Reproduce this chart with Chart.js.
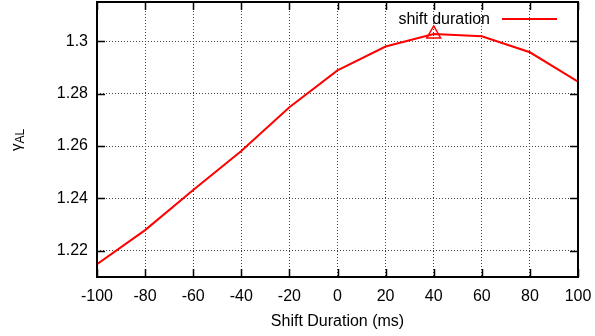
<!DOCTYPE html>
<html>
<head>
<meta charset="utf-8">
<script src="https://cdn.jsdelivr.net/npm/chart.js@4"></script>
<style>
  html, body { margin: 0; padding: 0; background: #fff; }
  #wrap { width: 595px; height: 336px; }
</style>
</head>
<body>
<div id="wrap"><canvas id="myChart" width="595" height="336"></canvas></div>
<script>
// data
const shiftMs = [-100, -80, -60, -40, -20, 0, 20, 40, 60, 80, 100];
const gammaAL = [1.2149, 1.2279, 1.2432, 1.2581, 1.2748, 1.2889, 1.2980, 1.3028, 1.3019, 1.2958, 1.2846];
const xTicks = [-100, -80, -60, -40, -20, 0, 20, 40, 60, 80, 100];
const yTicks = [1.22, 1.24, 1.26, 1.28, 1.3];
const seriesName = 'shift duration';
const markerX = [40];
const markerY = [1.3028];

const FONT = '"Liberation Sans", Arial, sans-serif';

// gnuplot-ish frame: solid border, inward ticks on all sides, custom legend and y title
const framePlugin = {
  id: 'frame',
  afterDraw(chart) {
    const ctx = chart.ctx;
    const a = chart.chartArea;
    const xs = chart.scales.x, ys = chart.scales.y;
    ctx.save();
    ctx.strokeStyle = '#000';
    ctx.lineWidth = 1.5;
    ctx.beginPath();
    xTicks.forEach(function(v) {
      const px = Math.round(xs.getPixelForValue(v)) + 0.5;
      ctx.moveTo(px, a.bottom); ctx.lineTo(px, a.bottom - 8);
      ctx.moveTo(px, a.top); ctx.lineTo(px, a.top + 8);
    });
    yTicks.forEach(function(v) {
      const py = Math.round(ys.getPixelForValue(v)) + 0.5;
      ctx.moveTo(a.left, py); ctx.lineTo(a.left + 8, py);
      ctx.moveTo(a.right, py); ctx.lineTo(a.right - 8, py);
    });
    ctx.stroke();
    ctx.lineWidth = 2;
    ctx.strokeRect(a.left, a.top, a.right - a.left, a.bottom - a.top);

    // legend
    ctx.fillStyle = '#000';
    ctx.font = '16px ' + FONT;
    ctx.textAlign = 'right';
    ctx.textBaseline = 'middle';
    ctx.fillText(seriesName, 490, 20);
    ctx.strokeStyle = '#ff0000';
    ctx.lineWidth = 2;
    ctx.beginPath();
    ctx.moveTo(502, 19); ctx.lineTo(557, 19);
    ctx.stroke();

    // y title: gamma with subscript AL, rotated
    ctx.translate(21, 151);
    ctx.rotate(-Math.PI / 2);
    ctx.textAlign = 'left';
    ctx.textBaseline = 'alphabetic';
    ctx.fillStyle = '#000';
    ctx.font = '15px ' + FONT;
    ctx.fillText('γ', 0, 0);
    const w = ctx.measureText('γ').width;
    ctx.font = '12px ' + FONT;
    ctx.fillText('AL', w, 3);
    ctx.restore();
  }
};

const ctx = document.getElementById('myChart').getContext('2d');
new Chart(ctx, {
  type: 'line',
  data: {
    datasets: [{
      label: seriesName,
      data: shiftMs.map(function(x, i) { return { x: x, y: gammaAL[i] }; }),
      borderColor: '#ff0000',
      borderWidth: 2,
      pointRadius: 0,
      fill: false,
      tension: 0
    }, {
      label: 'max',
      data: markerX.map(function(x, i) { return { x: x, y: markerY[i] }; }),
      showLine: false,
      pointStyle: 'triangle',
      pointRadius: 8,
      borderColor: '#ff0000',
      backgroundColor: 'rgba(0,0,0,0)',
      pointBorderWidth: 1.5
    }]
  },
  options: {
    responsive: false,
    animation: false,
    layout: { autoPadding: false, padding: { left: 0, right: 17, top: 2, bottom: 0 } },
    plugins: { legend: { display: false }, tooltip: { enabled: false } },
    scales: {
      x: {
        type: 'linear',
        min: -100,
        max: 100,
        afterBuildTicks: function(s) { s.ticks = xTicks.map(function(v) { return { value: v }; }); },
        afterFit: function(s) { s.height = 59; s.paddingLeft = 0; s.paddingRight = 0; },
        grid: { color: '#444', lineWidth: 1, drawTicks: false },
        border: { display: false, dash: [1, 2] },
        ticks: { color: '#000', font: { family: FONT, size: 16 }, padding: 10, maxRotation: 0 },
        title: { display: true, text: 'Shift Duration (ms)', color: '#000', font: { family: FONT, size: 16 }, padding: { top: 4, bottom: 5 } }
      },
      y: {
        min: 1.21,
        max: 1.315,
        afterBuildTicks: function(s) { s.ticks = yTicks.map(function(v) { return { value: v }; }); },
        afterFit: function(s) { s.width = 97; s.paddingTop = 0; s.paddingBottom = 0; },
        grid: { color: '#444', lineWidth: 1, drawTicks: false },
        border: { display: false, dash: [1, 2] },
        ticks: {
          color: '#000', font: { family: FONT, size: 16 }, padding: 9,
          callback: function(v) { return String(Number(v.toFixed(2))); }
        }
      }
    }
  },
  plugins: [framePlugin]
});
</script>
</body>
</html>
